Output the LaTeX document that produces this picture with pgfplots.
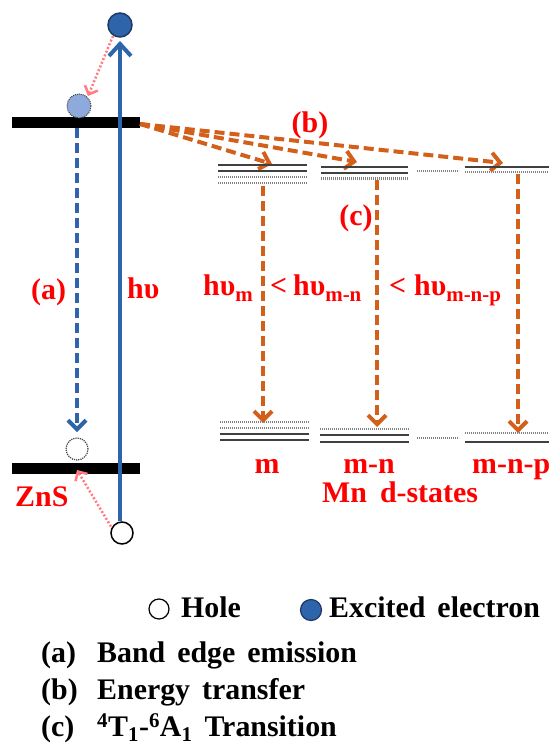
\documentclass[border=0pt]{standalone}
\usepackage{fontspec}
\setmainfont{Liberation Serif}
\usepackage{pgfplots}
\pgfplotsset{compat=1.18}
\usetikzlibrary{arrows.meta}
\definecolor{eblue}{HTML}{2E64AA}
\definecolor{eblueDark}{HTML}{1F3864}
\definecolor{lblue}{HTML}{8EA9DB}
\definecolor{orng}{HTML}{D2601A}
\definecolor{pnk}{HTML}{FF7C80}
\definecolor{lvl}{HTML}{404040}
\definecolor{lvld}{HTML}{808080}
\newcommand{\lab}{\fontsize{30}{31}\selectfont\bfseries\color{red}}
\newcommand{\txt}{\fontsize{30}{31}\selectfont\bfseries}
\newcommand{\ws}{\hspace{12bp}}
\newcommand{\sub}[1]{\raisebox{-0.22em}{\fontsize{21}{21}\selectfont #1}}
\begin{document}
\begin{tikzpicture}
\begin{axis}[name=ax, scale only axis, width=549bp, height=746bp,
  xmin=0, xmax=549, ymin=0, ymax=746, y dir=reverse, hide axis, clip=false,
  solidlvl/.style={lvl, line width=2bp, no marks},
  dotlvl/.style={lvld, line width=2.2bp, dash pattern=on 1.2bp off 0.8bp, no marks},
  odash/.style={orng, line width=4bp, dash pattern=on 10bp off 5bp, no marks,
    -{Straight Barb[length=9bp,width=18bp,line width=4bp]}},
  pdot/.style={pnk, line width=2.5bp, dash pattern=on 2bp off 2bp, no marks,
    -{Straight Barb[length=7bp,width=14bp,line width=2.5bp]}},
]
% ZnS bands
\addplot[black, line width=11bp, no marks] coordinates {(12,122.5) (140,122.5)};
\addplot[black, line width=11bp, no marks] coordinates {(12,468) (140,468)};
% band edge emission (a)
\addplot[eblue, line width=4bp, dash pattern=on 10bp off 5bp, no marks,
  -{Straight Barb[length=9bp,width=18bp,line width=4bp]}] coordinates {(77,128) (77,432)};
% excitation h nu
\addplot[eblue, line width=4bp, no marks,
  -{Straight Barb[length=12bp,width=22bp,line width=4bp]}] coordinates {(120,521) (120,41)};
% pink relaxations
\addplot[pdot] coordinates {(113,36) (88,96)};
\addplot[pdot] coordinates {(113,530) (77,470)};
% circles
\addplot[only marks, mark=*, mark size=12bp, mark options={fill=eblue, draw=eblueDark, line width=1.5bp}] coordinates {(120,25)};
\addplot[only marks, mark=*, mark size=12bp, mark options={fill=lblue, draw=lvl, line width=1bp, densely dotted}] coordinates {(79,106)};
\addplot[only marks, mark=*, mark size=11bp, mark options={fill=white, draw=lvl, line width=1.2bp, densely dotted}] coordinates {(77,449)};
\addplot[only marks, mark=*, mark size=11bp, mark options={fill=white, draw=black, line width=1.5bp}] coordinates {(122,533)};
% energy transfer fan
\addplot[odash] coordinates {(140,124) (272,164)};
\addplot[odash] coordinates {(140,124) (357,162)};
\addplot[odash] coordinates {(140,124) (503,163)};
% upper Mn levels
\addplot[solidlvl] coordinates {(218,165) (307,165)};
\addplot[solidlvl] coordinates {(218,171) (307,171)};
\addplot[dotlvl] coordinates {(218,177) (307,177)};
\addplot[dotlvl] coordinates {(218,183) (307,183)};
\addplot[solidlvl] coordinates {(321,167) (408,167)};
\addplot[solidlvl, line width=2.6bp] coordinates {(321,173) (408,173)};
\addplot[dotlvl] coordinates {(321,178.5) (408,178.5)};
\addplot[dotlvl] coordinates {(417,171) (459,171)};
\addplot[solidlvl] coordinates {(465,167) (549,167)};
\addplot[dotlvl] coordinates {(465,172) (549,172)};
% lower Mn levels
\addplot[dotlvl] coordinates {(220,422) (309,422)};
\addplot[dotlvl] coordinates {(220,428) (309,428)};
\addplot[solidlvl] coordinates {(220,434) (309,434)};
\addplot[solidlvl] coordinates {(220,440) (309,440)};
\addplot[dotlvl] coordinates {(320,429) (409,429)};
\addplot[solidlvl] coordinates {(320,435) (409,435)};
\addplot[solidlvl] coordinates {(320,442) (409,442)};
\addplot[dotlvl] coordinates {(417,438) (459,438)};
\addplot[dotlvl] coordinates {(465,433) (549,433)};
\addplot[solidlvl, line width=2.4bp] coordinates {(465,442) (549,442)};
% Mn transitions
\addplot[odash] coordinates {(263,186) (263,423)};
\addplot[odash] coordinates {(377,180) (377,427)};
\addplot[odash] coordinates {(518,174) (518,433)};
% legend circles
\addplot[only marks, mark=*, mark size=10bp, mark options={fill=white, draw=black, line width=1.2bp}] coordinates {(159,609)};
\addplot[only marks, mark=*, mark size=10.5bp, mark options={fill=eblue, draw=eblueDark, line width=1.2bp}] coordinates {(311,610)};
% labels
\node[anchor=base west, inner sep=0pt] at (axis cs:31,299) {\lab (a)};
\node[anchor=base west, inner sep=0pt] at (axis cs:127,298) {\lab hυ};
\node[anchor=base, inner sep=0pt] at (axis cs:310,133) {\lab (b)};
\node[anchor=base, inner sep=0pt] at (axis cs:356,225) {\lab (c)};
\node[anchor=base west, inner sep=0pt] at (axis cs:203,295) {\lab hυ\sub{m}};
\node[anchor=base west, inner sep=0pt] at (axis cs:270,295) {\lab <};
\node[anchor=base west, inner sep=0pt] at (axis cs:293,295) {\lab hυ\sub{m-n}};
\node[anchor=base west, inner sep=0pt] at (axis cs:389,295) {\lab <};
\node[anchor=base west, inner sep=0pt] at (axis cs:414,295) {\lab hυ\sub{m-n-p}};
\node[anchor=base west, inner sep=0pt] at (axis cs:15,506) {\lab ZnS};
\node[anchor=base, inner sep=0pt] at (axis cs:267,473) {\lab m};
\node[anchor=base, inner sep=0pt] at (axis cs:369,473) {\lab m-n};
\node[anchor=base west, inner sep=0pt] at (axis cs:472,473) {\lab m-n-p};
\node[anchor=base west, inner sep=0pt] at (axis cs:322,502) {\lab Mn\hspace{13bp}d-states};
% legend text
\node[anchor=base west, inner sep=0pt] at (axis cs:181,617) {\txt Hole};
\node[anchor=base west, inner sep=0pt] at (axis cs:329,617) {\txt Excited\ws electron};
\node[anchor=base west, inner sep=0pt] at (axis cs:41,662) {\txt (a)};
\node[anchor=base west, inner sep=0pt] at (axis cs:97,662) {\txt Band\ws edge\ws emission};
\node[anchor=base west, inner sep=0pt] at (axis cs:41,699) {\txt (b)};
\node[anchor=base west, inner sep=0pt] at (axis cs:97,699) {\txt Energy\ws transfer};
\node[anchor=base west, inner sep=0pt] at (axis cs:41,736) {\txt (c)};
\node[anchor=base west, inner sep=0pt] at (axis cs:97,736) {\txt \textsuperscript{4}T\textsubscript{1}-\textsuperscript{6}A\textsubscript{1}\ws Transition};
\end{axis}
\pgfresetboundingbox
\path[use as bounding box] (ax.south west) rectangle (ax.north east);
\end{tikzpicture}
\end{document}
